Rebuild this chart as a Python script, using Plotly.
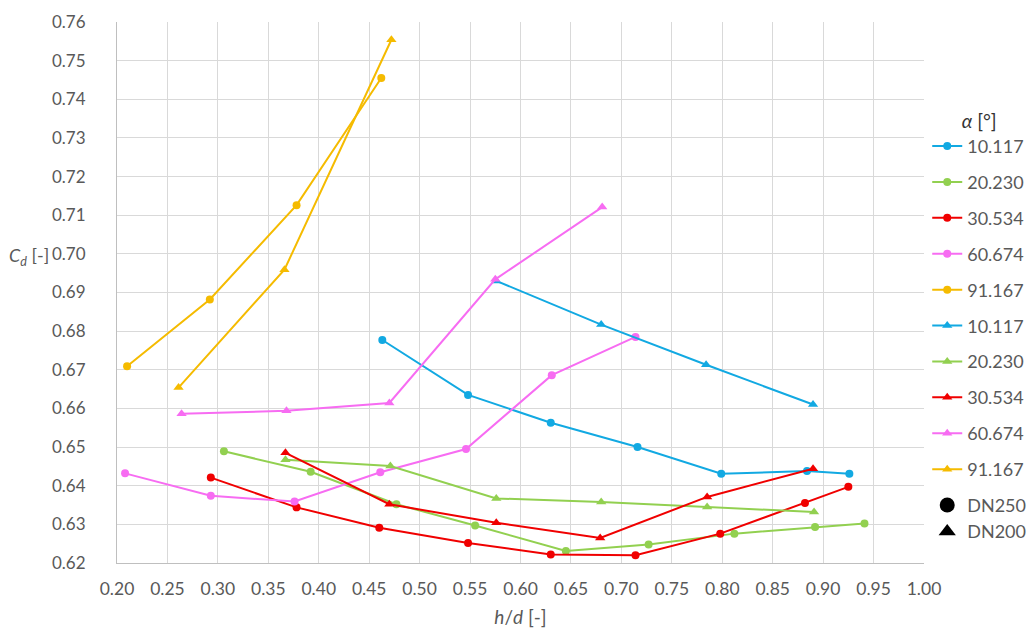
import plotly.graph_objects as go

# ---- data ----
alpha_labels = ["10.117", "20.230", "30.534", "60.674", "91.167"]
colors = ["#12a9e2", "#92d050", "#f00000", "#f76cf2", "#f5bb00"]

# DN250 (circles)
x_10_250 = [0.463, 0.548, 0.630, 0.716, 0.799, 0.884, 0.926]
y_10_250 = [0.6777, 0.6635, 0.6563, 0.6500, 0.6431, 0.6438, 0.6431]
x_20_250 = [0.306, 0.392, 0.477, 0.555, 0.645, 0.727, 0.812, 0.892, 0.941]
y_20_250 = [0.6489, 0.6436, 0.6352, 0.6297, 0.6231, 0.6248, 0.6276, 0.6293, 0.6302]
x_30_250 = [0.293, 0.378, 0.460, 0.548, 0.630, 0.714, 0.798, 0.882, 0.925]
y_30_250 = [0.6421, 0.6344, 0.6291, 0.6252, 0.6222, 0.6220, 0.6276, 0.6355, 0.6397]
x_60_250 = [0.208, 0.293, 0.376, 0.461, 0.546, 0.631, 0.714]
y_60_250 = [0.6432, 0.6374, 0.6359, 0.6435, 0.6495, 0.6686, 0.6785]
x_91_250 = [0.210, 0.292, 0.378, 0.462]
y_91_250 = [0.6709, 0.6882, 0.7126, 0.7455]

# DN200 (triangles)
x_10_200 = [0.576, 0.680, 0.784, 0.890]
y_10_200 = [0.6930, 0.6817, 0.6713, 0.6610]
x_20_200 = [0.367, 0.471, 0.576, 0.680, 0.785, 0.891]
y_20_200 = [0.6467, 0.6451, 0.6367, 0.6358, 0.6345, 0.6332]
x_30_200 = [0.367, 0.470, 0.576, 0.679, 0.785, 0.890]
y_30_200 = [0.6485, 0.6352, 0.6304, 0.6265, 0.6371, 0.6444]
x_60_200 = [0.264, 0.368, 0.470, 0.575, 0.681]
y_60_200 = [0.6586, 0.6594, 0.6614, 0.6934, 0.7121]
x_91_200 = [0.261, 0.366, 0.472]
y_91_200 = [0.6654, 0.6959, 0.7554]

series_250 = [(x_10_250, y_10_250), (x_20_250, y_20_250), (x_30_250, y_30_250),
              (x_60_250, y_60_250), (x_91_250, y_91_250)]
series_200 = [(x_10_200, y_10_200), (x_20_200, y_20_200), (x_30_200, y_30_200),
              (x_60_200, y_60_200), (x_91_200, y_91_200)]

FONT = "Lato, 'Open Sans', sans-serif"
GREY = "#595959"

fig = go.Figure()
for i, (xs, ys) in enumerate(series_250):
    fig.add_trace(go.Scatter(
        x=xs, y=ys, mode="lines+markers", name=alpha_labels[i],
        legendgroup=f"c{i}",
        line=dict(color=colors[i], width=2),
        marker=dict(symbol="circle", size=8, color=colors[i])))
for i, (xs, ys) in enumerate(series_200):
    fig.add_trace(go.Scatter(
        x=xs, y=ys, mode="lines+markers", name=alpha_labels[i],
        legendgroup=f"t{i}",
        line=dict(color=colors[i], width=2),
        marker=dict(symbol="triangle-up", size=9, color=colors[i])))

fig.add_trace(go.Scatter(x=[None], y=[None], mode="markers", name="DN250",
                         legendgroup="dn",
                         marker=dict(symbol="circle", size=15, color="black")))
fig.add_trace(go.Scatter(x=[None], y=[None], mode="markers", name="DN200",
                         legendgroup="dn",
                         marker=dict(symbol="triangle-up", size=15, color="black")))

# the page body adds an 8px offset, so the figure is sized 8px smaller
fig.update_layout(
    width=1027, height=624,
    margin=dict(l=109, r=111, t=14, b=69, autoexpand=False),
    paper_bgcolor="white", plot_bgcolor="white",
    font=dict(family=FONT, color=GREY, size=16),
    showlegend=True,
    legend=dict(
        x=1.004, y=0.85, xanchor="left", yanchor="top",
        font=dict(family=FONT, size=18, color=GREY),
        title=dict(text="<i>α</i> [°]", side="top center",
                   font=dict(family=FONT, size=19, color="#333333")),
        tracegroupgap=9.5, itemwidth=30,
        bgcolor="rgba(0,0,0,0)",
    ),
    xaxis=dict(
        range=[0.2, 1.0], dtick=0.05, tick0=0.2, tickformat=".2f",
        showgrid=True, gridcolor="#d9d9d9", gridwidth=1,
        showline=True, linecolor="#bfbfbf", linewidth=1,
        zeroline=False, ticks="", ticklabelstandoff=10, automargin=False,
        tickfont=dict(size=17.5, color=GREY),
        title=dict(text="<i>h</i>/<i>d</i> [-]", standoff=12,
                   font=dict(size=19, color=GREY)),
    ),
    yaxis=dict(
        range=[0.62, 0.76], dtick=0.01, tick0=0.62, tickformat=".2f",
        showgrid=True, gridcolor="#d9d9d9", gridwidth=1,
        showline=True, linecolor="#bfbfbf", linewidth=1,
        zeroline=False, ticks="", ticklabelstandoff=27, automargin=False,
        tickfont=dict(size=17, color=GREY),
    ),
)

fig.add_annotation(
    text="<i>C<sub>d</sub></i> [-]", xref="paper", yref="paper",
    x=-0.082, y=0.567, xanchor="right", yanchor="middle", showarrow=False,
    font=dict(family=FONT, size=18, color=GREY))

fig.write_html("out.html")
